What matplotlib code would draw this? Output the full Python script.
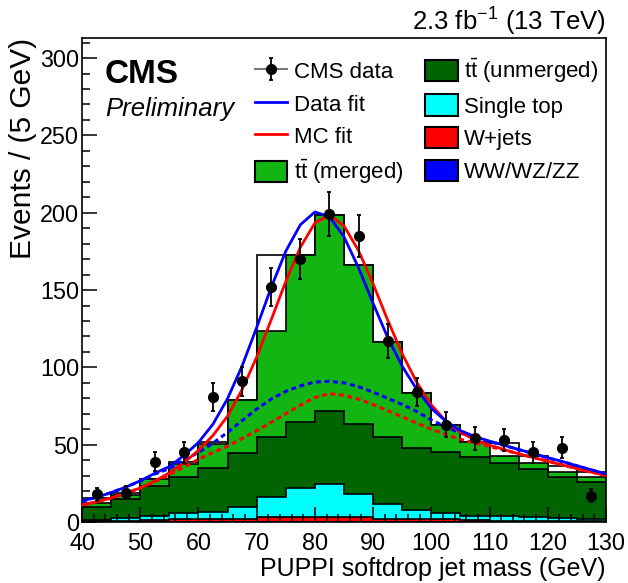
import numpy as np
import matplotlib
matplotlib.use("Agg")
import matplotlib.pyplot as plt
from matplotlib.patches import Patch
from matplotlib.lines import Line2D
from matplotlib.ticker import MultipleLocator

plt.rcParams['font.family'] = ['Liberation Sans', 'DejaVu Sans']
plt.rcParams['mathtext.fontset'] = 'custom'
plt.rcParams['mathtext.rm'] = 'Liberation Sans'
plt.rcParams['mathtext.it'] = 'Liberation Sans:italic'

# binning: 5 GeV bins from 40 to 130
edges = np.arange(40, 135, 5)
centers = edges[:-1] + 2.5

# data counts
data = [18, 19, 39, 45, 81, 91, 152, 170, 199, 185, 117, 84, 63, 54, 53, 45, 48, 17]

# MC components (per bin, not stacked)
vv = [0.3] * 18
wjets = [0.5, 0.5, 0.9, 1.4, 1.5, 1.7, 3.0, 3.1, 3.1, 2.7, 1.4, 1.7, 1.7, 1.0, 0.6, 0.5, 0.5, 0.5]
single_top = [0.7, 2.0, 2.6, 3.9, 4.7, 7.5, 12.7, 18.4, 21.2, 15.1, 9.7, 5.8, 4.0, 2.8, 3.2, 2.7, 1.7, 1.2]
tt_unmerged = [8.5, 12.2, 19.2, 23.7, 28.2, 34.9, 39.0, 42.7, 46.9, 45.4, 43.4, 40.3, 39.1, 38.2, 33.9, 30.5, 26.5, 24.0]
tt_merged = [2.0, 2.5, 5.0, 8.2, 15.8, 34.6, 68.5, 108.3, 127.2, 103.0, 61.7, 35.2, 17.7, 9.7, 4.7, 4.0, 3.6, 3.3]

# white outlined histogram sitting behind the stack
mc_outline = [15.5, 19, 28, 38.5, 51.6, 79, 172.8, 172.8, 198.7, 166.5, 116.5, 83.3, 62.8, 52, 51, 42.7, 36.2, 32.6]

# fit curves, sampled every 2.5 GeV
fit_mass = np.arange(40, 132.5, 2.5)
data_fit = [13.5, 16, 19, 22.5, 26.6, 31.5, 35.8, 43, 51.4, 63.3, 79.8, 100.9, 125.8, 151.7, 175.1,
            192.2, 200.5, 197.4, 184.4, 164.4, 141.4, 119.3, 100.7, 85.7, 73.5, 65.1, 59.1, 55.2,
            52.3, 49.6, 46.9, 44.3, 41.6, 39.1, 36.4, 33.7, 31.1]
data_fit_bkg = [13.5, 16, 19, 22.5, 26.5, 31, 34.5, 40, 45, 51, 58, 65.5, 73, 79.5, 84.5, 88, 90.5,
                91, 90, 87.5, 84, 80, 76, 71.5, 66, 61.5, 57.5, 54.5, 52, 49.5, 46.8, 44.2, 41.5,
                39, 36.3, 33.6, 31]
mc_fit = [11, 13, 15.5, 18.5, 22, 26.5, 31.8, 38.3, 46.3, 56, 68.5, 85.6, 106.6, 130.8, 155.5,
          177.6, 193.4, 198.5, 191.5, 175.5, 154, 130.6, 108.8, 90.3, 75.7, 65.2, 57.9, 53.1,
          49.7, 46.9, 44.1, 41.7, 39.3, 36.9, 34.5, 32.3, 30]
mc_fit_bkg = [11, 13, 15.5, 18.5, 22, 26, 30.5, 35.5, 40.5, 45, 49, 54, 59, 64.5, 70, 75.5, 80.5,
              83, 82, 79.5, 76, 72, 68, 64, 60, 56.5, 53.5, 51, 48.8, 46.5, 44.1, 41.7, 39.3,
              36.9, 34.5, 32.3, 30]

c_merged = '#12b512'
c_unmerged = '#006400'
c_st = '#00ffff'
c_w = '#ff0000'
c_vv = '#0000ff'

fig = plt.figure(figsize=(6.28, 5.83), dpi=100)
ax = fig.add_axes([82 / 628, 61 / 583, 524 / 628, 484 / 583])

ax.stairs(mc_outline, edges, fill=True, facecolor='white', edgecolor='black', lw=1.2, zorder=1.0)

comps = [vv, wjets, single_top, tt_unmerged, tt_merged]
cols = [c_vv, c_w, c_st, c_unmerged, c_merged]
stacked = np.cumsum(np.array(comps), axis=0)
for i in range(len(comps) - 1, -1, -1):
    ax.stairs(stacked[i], edges, fill=True, facecolor=cols[i], edgecolor='black',
              lw=1.2, zorder=1.1 + 0.1 * (len(comps) - i))

ax.plot(fit_mass, data_fit_bkg, color='blue', lw=2.2, ls=(0, (1.6, 1.2)), zorder=3)
ax.plot(fit_mass, mc_fit_bkg, color='red', lw=2.2, ls=(0, (1.6, 1.2)), zorder=3)
ax.plot(fit_mass, mc_fit, color='red', lw=2.0, zorder=3.1)
ax.plot(fit_mass, data_fit, color='blue', lw=2.0, zorder=3.2)

eb = ax.errorbar(centers, data, yerr=np.sqrt(data), fmt='o', color='black', ms=7,
                 elinewidth=1.3, capsize=1.5, capthick=1.3, zorder=4)

ax.set_xlim(40, 130)
ax.set_ylim(0, 313)
ax.xaxis.set_major_locator(MultipleLocator(10))
ax.xaxis.set_minor_locator(MultipleLocator(2))
ax.yaxis.set_major_locator(MultipleLocator(50))
ax.yaxis.set_minor_locator(MultipleLocator(10))
ax.tick_params(which='both', direction='in', top=False, right=False, labelsize=16.8)
ax.tick_params(which='major', length=11, width=1.1)
ax.tick_params(which='minor', length=6, width=1.1)
ax.tick_params(axis='x', pad=7.5)
ax.tick_params(axis='y', pad=2)
for sp in ax.spines.values():
    sp.set_linewidth(1.2)

ax.set_xlabel('PUPPI softdrop jet mass (GeV)', fontsize=18, loc='right', labelpad=1)
ax.set_ylabel('Events / (5 GeV)', fontsize=21.5, loc='top', labelpad=2)

ax.text(0.044, 0.907, 'CMS', transform=ax.transAxes, fontsize=24, fontweight='bold')
ax.text(0.044, 0.839, 'Preliminary', transform=ax.transAxes, fontsize=18.5, style='italic')
fig.text(606 / 628, 1 - 31 / 583, r'2.3 fb$^{-1}$ (13 TeV)', ha='right', va='baseline', fontsize=18.5)

tt = r'$\mathrm{t\bar{t}}$'
handles = [
    (Line2D([], [], color='#777777', lw=1.5), eb),
    Line2D([], [], color='blue', lw=2),
    Line2D([], [], color='red', lw=2),
    Patch(facecolor=c_merged, edgecolor='black', lw=1.5),
    Patch(facecolor=c_unmerged, edgecolor='black', lw=1.5),
    Patch(facecolor=c_st, edgecolor='black', lw=1.5),
    Patch(facecolor=c_w, edgecolor='black', lw=1.5),
    Patch(facecolor=c_vv, edgecolor='black', lw=1.5),
]
labels = ['CMS data', 'Data fit', 'MC fit', tt + ' (merged)',
          tt + ' (unmerged)', 'Single top', 'W+jets', 'WW/WZ/ZZ']
ax.legend(handles, labels, ncol=2, loc='upper left', bbox_to_anchor=(0.33, 0.961),
          frameon=False, fontsize=16, borderpad=0, handlelength=1.45, handleheight=1.1,
          handletextpad=0.3, labelspacing=0.42, columnspacing=1.0, borderaxespad=0)

fig.savefig('out.png', dpi=100)
